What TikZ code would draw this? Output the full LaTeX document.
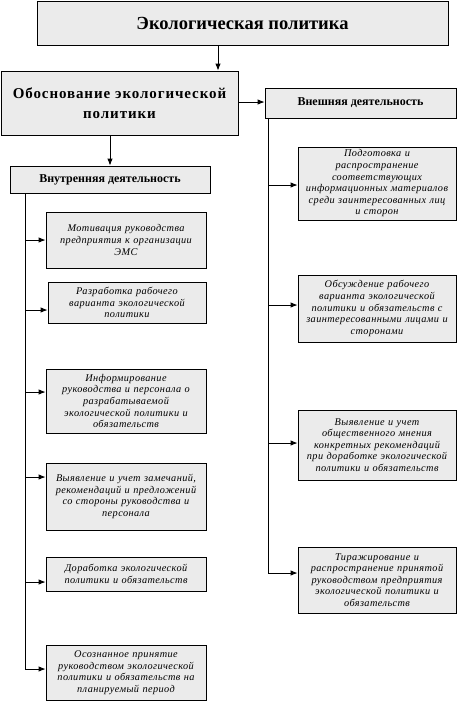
\documentclass[tikz,border=0pt]{standalone}
\usepackage{fontspec}
\setmainfont{Liberation Serif}
\usetikzlibrary{arrows.meta,shadows}
\tikzset{
  box/.style={draw=black, line width=0.8pt, fill=boxgray, align=center, inner sep=1pt,
    drop shadow={shadow xshift=1.3pt, shadow yshift=-1.3pt, fill=black!75, opacity=1}},
  itbox/.style={box, font=\fontsize{10.3pt}{11.6pt}\itshape\addfontfeatures{LetterSpace=4}\selectfont},
  arr/.style={line width=0.9pt, -{Latex[length=7pt,width=5.5pt]}},
  trunk/.style={line width=1pt},
}
\definecolor{boxgray}{HTML}{EBEBEB}
\begin{document}
\begin{tikzpicture}[x=1pt,y=1pt]
\useasboundingbox (0,0) rectangle (457,-702);
% top
\node[box, minimum width=411pt, minimum height=44pt, font=\fontsize{18.5pt}{21pt}\bfseries\selectfont] (top) at (242.5,-23) {Экологическая политика};
\node[box, minimum width=237pt, minimum height=64pt, text width=234pt, font=\fontsize{15pt}{20pt}\bfseries\addfontfeatures{LetterSpace=6}\selectfont] (obos) at (119.5,-103) {Обоснование экологической\\ политики};
\node[box, minimum width=191pt, minimum height=30pt, font=\fontsize{12pt}{13pt}\bfseries\selectfont] (ext) at (360.5,-103) {Внешняя деятельность};
\node[box, minimum width=200pt, minimum height=27pt, font=\fontsize{12pt}{13pt}\bfseries\selectfont] (int) at (110,-179.5) {Внутренняя деятельность};
% left boxes
\node[itbox, minimum width=160pt, minimum height=56pt, text width=158pt] (l1) at (126,-240) {Мотивация руководства\\ предприятия к организации\\ ЭМС};
\node[itbox, minimum width=158pt, minimum height=41pt, text width=156pt] (l2) at (127,-302.5) {Разработка рабочего\\ варианта экологической\\ политики};
\node[itbox, minimum width=160pt, minimum height=64pt, text width=158pt] (l3) at (126,-401) {Информирование\\ руководства и персонала о\\ разрабатываемой\\ экологической политики и\\ обязательств};
\node[itbox, minimum width=160pt, minimum height=67pt, text width=158pt] (l4) at (126,-496.5) {Выявление и учет замечаний,\\ рекомендаций и предложений\\ со стороны руководства и\\ персонала};
\node[itbox, minimum width=160pt, minimum height=34pt, text width=158pt] (l5) at (126,-574) {Доработка экологической\\ политики и обязательств};
\node[itbox, minimum width=160pt, minimum height=55pt, text width=158pt] (l6) at (126,-672.5) {Осознанное принятие\\ руководством экологической\\ политики и обязательств на\\ планируемый период};
% right boxes
\node[itbox, minimum width=158pt, minimum height=73pt, text width=156pt] (r1) at (377,-183.5) {Подготовка и\\ распространение\\ соответствующих\\ информационных материалов\\ среди заинтересованных лиц\\ и сторон};
\node[itbox, minimum width=158pt, minimum height=67pt, text width=156pt] (r2) at (377,-308.5) {Обсуждение рабочего\\ варианта экологической\\ политики и обязательств с\\ заинтересованными лицами и\\ сторонами};
\node[itbox, minimum width=158pt, minimum height=70pt, text width=156pt] (r3) at (377,-445) {Выявление и учет\\ общественного мнения\\ конкретных рекомендаций\\ при доработке экологической\\ политики и обязательств};
\node[itbox, minimum width=158pt, minimum height=66pt, text width=156pt] (r4) at (377,-580) {Тиражирование и\\ распространение принятой\\ руководством предприятия\\ экологической политики и\\ обязательств};
% main arrows
\coordinate (tx) at (218,0);
\draw[arr] (top.south -| tx) -- (obos.north -| tx);
\coordinate (ey) at (0,-102);
\draw[arr] (obos.east |- ey) -- (ext.west |- ey);
\coordinate (ix) at (110,0);
\draw[arr] (obos.south -| ix) -- (int.north -| ix);
% left trunk
\coordinate (lx) at (25,0);
\coordinate (a1) at (25,-240);
\coordinate (a2) at (25,-310);
\coordinate (a3) at (25,-392);
\coordinate (a4) at (25,-477);
\coordinate (a5) at (25,-582);
\coordinate (a6) at (25,-669);
\draw[trunk] (int.south -| lx) -- (a6);
\foreach \i in {1,...,6} {\draw[arr] (a\i) -- (a\i -| l\i.west);}
% right trunk
\coordinate (rx) at (268,0);
\coordinate (b1) at (268,-185);
\coordinate (b2) at (268,-305);
\coordinate (b3) at (268,-443);
\coordinate (b4) at (268,-573);
\draw[trunk] (ext.south -| rx) -- (b4);
\foreach \i in {1,...,4} {\draw[arr] (b\i) -- (b\i -| r\i.west);}
\end{tikzpicture}
\end{document}
